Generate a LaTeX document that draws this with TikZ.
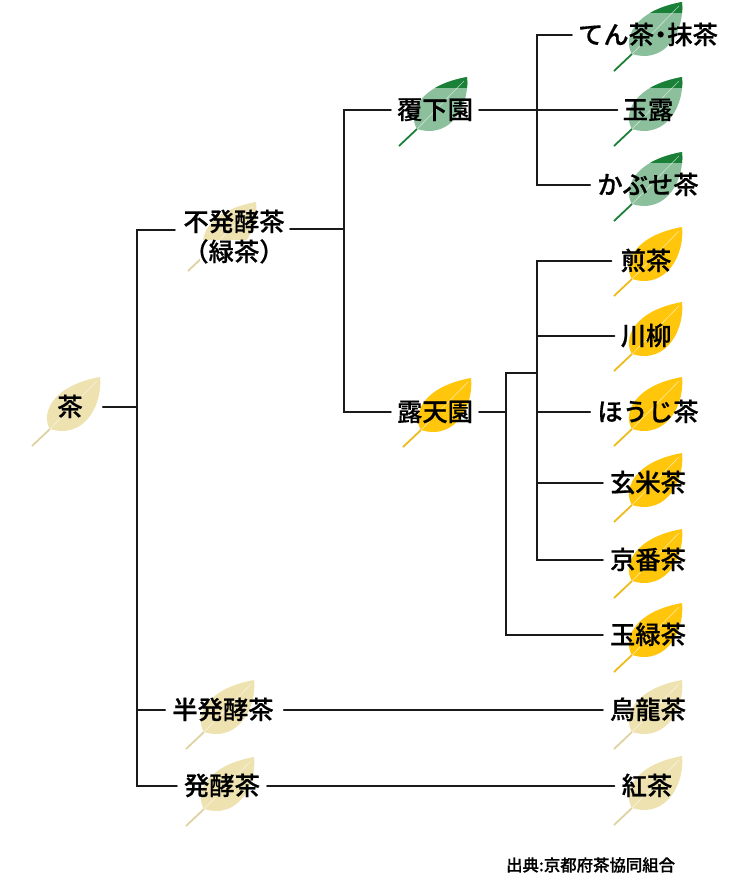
\documentclass[tikz,border=0pt]{standalone}
\usepackage{fontspec}
\setmainfont{Noto Sans CJK JP Medium}[FakeBold=0.6]
\definecolor{creamleaf}{HTML}{EEE2B0}
\definecolor{creamstem}{HTML}{DFD2A2}
\definecolor{goldleaf}{HTML}{FFC60B}
\definecolor{goldstem}{HTML}{EDBB1C}
\definecolor{paleleaf}{HTML}{8CBF9C}
\definecolor{darkleaf}{HTML}{1A8038}
\definecolor{inkline}{HTML}{1A1A1A}
% 叶片：(#1,#2) 为叶尖
\newcommand{\leafshape}{(-50,52) .. controls (-59,38) and (-50,9) .. (0,0) .. controls (3,25) and (-14,63) .. (-50,52) -- cycle}
\newcommand{\plainleaf}[4]{
  \begin{scope}[shift={(#1,#2)}]
    \fill[#3] \leafshape;
    \draw[#4, line width=1.8pt] (-50,52) -- (-68,69);
    \draw[white, opacity=0.6, line width=0.6pt] (-3,4) -- (-50,52);
  \end{scope}
}
\newcommand{\bandleaf}[2]{
  \begin{scope}[shift={(#1,#2)}]
    \fill[paleleaf] \leafshape;
    \begin{scope}
      \clip \leafshape;
      \fill[darkleaf] (-60,-2) rectangle (5,11);
    \end{scope}
    \draw[darkleaf, line width=1.8pt] (-50,52) -- (-68,69);
    \draw[white, opacity=0.6, line width=0.6pt] (-3,4) -- (-50,52);
  \end{scope}
}
\tikzset{
  teaname/.style={text=black, font=\fontsize{25.3}{30}\selectfont, text height=21pt, text depth=3pt, inner ysep=0pt, inner xsep=6pt},
  treeline/.style={draw=inkline, line width=1.9pt, line cap=round},
  sourcenote/.style={text=black, font=\fontsize{16.4}{20}\selectfont, anchor=west, inner sep=0pt}
}
\begin{document}
\begin{tikzpicture}[x=1pt, y=-1pt]
  \useasboundingbox (0,0) rectangle (750,886);

  % 左侧与中间的叶片
  \plainleaf{100}{377}{creamleaf}{creamstem}
  \plainleaf{256}{202}{creamleaf}{creamstem}
  \plainleaf{254}{680}{creamleaf}{creamstem}
  \plainleaf{254}{757}{creamleaf}{creamstem}
  \bandleaf{467}{77}
  \plainleaf{471}{378}{goldleaf}{goldstem}
  % 右侧的叶片
  \foreach \y in {2,77,152} {\bandleaf{682}{\y}}
  \foreach \y in {227,302,377,453,529,603} {\plainleaf{682}{\y}{goldleaf}{goldstem}}
  \foreach \y in {680,756} {\plainleaf{682}{\y}{creamleaf}{creamstem}}

  % （緑茶）下方留白
  \fill[white] (200,240) rectangle (272,268);

  % 节点
  \node[teaname, inner xsep=20pt] (cha) at (70,407) {茶};
  \node[teaname] (fuhakko) at (234,222) {不発酵茶};
  \node[teaname] (ryokucha) at (234,252) {（緑茶）};
  \node[teaname, inner xsep=7pt] (hanhakko) at (223,710) {半発酵茶};
  \node[teaname, inner xsep=7pt] (hakko) at (222,786) {発酵茶};
  \node[teaname] (ooika) at (435,110) {覆下園};
  \node[teaname] (roten) at (435,412) {露天園};
  \node[teaname, inner xsep=6pt] (tencha) at (648,35) {てん茶\kern-6pt・\kern-6pt抹茶};
  \node[teaname, inner xsep=5pt] (gyokuro) at (648,110) {玉露};
  \node[teaname, inner xsep=7pt] (kabuse) at (648,185) {かぶせ茶};
  \node[teaname, inner xsep=9pt] (sencha) at (646,261) {煎茶};
  \node[teaname, inner xsep=6pt] (senryu) at (646,336) {川柳};
  \node[teaname, inner xsep=7pt] (houji) at (648,412) {ほうじ茶};
  \node[teaname, inner xsep=7pt] (genmai) at (648,483) {玄米茶};
  \node[teaname, inner xsep=7pt] (kyoban) at (648,560) {京番茶};
  \node[teaname, inner xsep=7pt] (tamaryoku) at (648,635) {玉緑茶};
  \node[teaname, inner xsep=7pt] (uron) at (648,710) {烏龍茶};
  \node[teaname, inner xsep=7pt] (koucha) at (647,786) {紅茶};
  \node[sourcenote] (source) at (506,865) {出典:京都府茶協同組合};

  % 分支点
  \coordinate (trunk) at (137,407);
  \coordinate (fuhakkoL) at (175,230);
  \coordinate (fuhakkoR) at (290,229);
  \coordinate (midbar) at (344,229);
  \coordinate (ooibar) at (537,110);
  \coordinate (rotenbar) at (506,412);
  \coordinate (rotenup) at (537,373);

  % 第一层
  \draw[treeline] (cha.east) -- (trunk);
  \draw[treeline] (fuhakkoL) -| (trunk) |- (hakko.west);
  \draw[treeline] (trunk) |- (hanhakko.west);
  % 第二层
  \draw[treeline] (fuhakkoR) -- (midbar);
  \draw[treeline] (ooika.west) -| (midbar) |- (roten.west);
  % 覆下園
  \draw[treeline] (ooika.east) -- (gyokuro.west);
  \draw[treeline] (tencha.west) -| (ooibar) |- (kabuse.west);
  % 露天園
  \draw[treeline] (roten.east) -- (rotenbar);
  \draw[treeline] (rotenup) -| (rotenbar) |- (tamaryoku.west);
  \draw[treeline] (sencha.west) -| (rotenup) |- (kyoban.west);
  \draw[treeline] (rotenup |- senryu.west) -- (senryu.west);
  \draw[treeline] (rotenup |- houji.west) -- (houji.west);
  \draw[treeline] (rotenup |- genmai.west) -- (genmai.west);
  % 跨越的长线
  \draw[treeline] ([xshift=3pt]hanhakko.east) -- (uron.west);
  \draw[treeline] (hakko.east) -- (koucha.west);
\end{tikzpicture}
\end{document}
